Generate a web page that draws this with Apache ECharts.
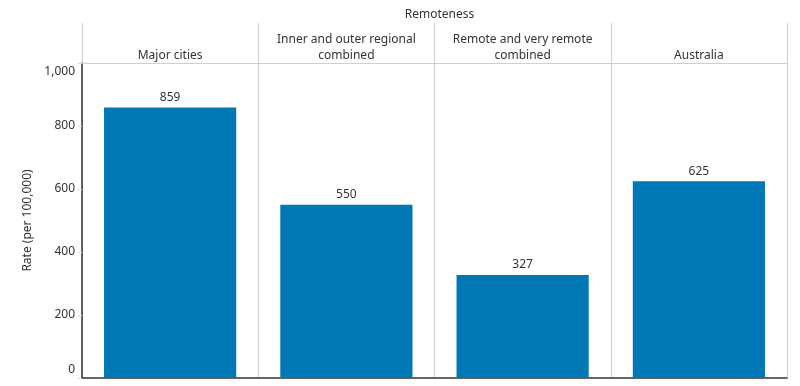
<!DOCTYPE html>
<html><head><meta charset="utf-8">
<script src="https://cdn.jsdelivr.net/npm/echarts@6/dist/echarts.min.js"></script>
<style>html,body{margin:0;padding:0;background:#fff}#c{width:800px;height:386px}</style>
</head><body><div id="c"></div>
<script>
const categories = ['Major cities', 'Inner and outer regional\ncombined', 'Remote and very remote\ncombined', 'Australia'];
const rates = [859, 550, 327, 625];
const yTicks = [0, 200, 400, 600, 800, 1000];
const headerTitle = 'Remoteness';
const yName = 'Rate (per 100,000)';

const FONT = 'Noto Sans';
const chart = echarts.init(document.getElementById('c'));
chart.setOption({
  animation: false,
  textStyle: { fontFamily: FONT },
  title: { text: headerTitle, left: 434.5, top: 4, textAlign: 'center',
    textStyle: { fontSize: 12, fontWeight: 'normal', color: '#333', fontFamily: FONT } },
  grid: [
    { left: 82, right: 13, top: 63, bottom: 8 },
    { left: 82, right: 13, top: 23, height: 40 }
  ],
  xAxis: [
    { type: 'category', gridIndex: 0, data: categories, position: 'bottom',
      axisLine: { show: true, lineStyle: { color: '#333', width: 1.5 } },
      axisTick: { show: false }, axisLabel: { show: false, interval: 0 },
      splitLine: { show: true, interval: 0, lineStyle: { color: '#cfcfcf', width: 1 } } },
    { type: 'category', gridIndex: 1, data: categories, position: 'bottom',
      axisLine: { show: true, lineStyle: { color: '#cfcfcf', width: 1 } },
      axisTick: { show: false },
      axisLabel: { show: true, interval: 0, inside: true, margin: -1, fontSize: 12, color: '#333', lineHeight: 16, fontFamily: FONT },
      splitLine: { show: true, interval: 0, lineStyle: { color: '#cfcfcf', width: 1 } } }
  ],
  yAxis: [
    { type: 'value', gridIndex: 0, min: yTicks[0], max: yTicks[yTicks.length - 1], interval: 200,
      name: yName, nameLocation: 'middle', nameGap: 46, nameRotate: 90,
      nameTextStyle: { fontSize: 12, color: '#333', fontFamily: FONT },
      axisLine: { show: true, lineStyle: { color: '#333', width: 1.5 } },
      axisTick: { show: true, length: 4, lineStyle: { color: '#d8d8d8' } },
      axisLabel: { fontSize: 12, color: '#333', margin: 7, fontFamily: FONT,
        verticalAlignMinLabel: 'bottom', verticalAlignMaxLabel: 'top',
        padding: [3, 0, 2, 0],
        formatter: v => v.toLocaleString('en-US') },
      splitLine: { show: false } },
    { type: 'value', gridIndex: 1, show: false }
  ],
  series: [{
    type: 'bar', xAxisIndex: 0, yAxisIndex: 0, data: rates, barWidth: '75%',
    itemStyle: { color: '#0078B5' },
    label: { show: true, position: 'top', distance: 4, fontSize: 12, color: '#333', fontFamily: FONT }
  }]
});
</script></body></html>
